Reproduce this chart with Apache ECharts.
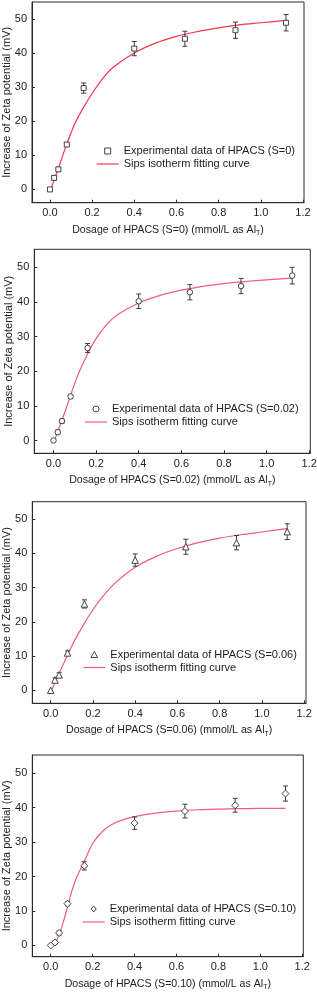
<!DOCTYPE html>
<html><head><meta charset="utf-8">
<script src="https://cdn.jsdelivr.net/npm/echarts@6.0.0/dist/echarts.min.js"></script>
<style>html,body{margin:0;padding:0;background:#fff}#c{width:317px;height:992px}</style>
</head><body><div id="c"></div>
<script>
// ---- data ----
const dosage = [0, 0.02, 0.04, 0.08, 0.16, 0.40, 0.64, 0.88, 1.12];
const zetaS000 = [0, 3.4, 5.9, 13.2, 29.8, 41.4, 44.3, 46.8, 49.0];
const errS000  = [0, 0.6, 0.6, 0.6, 1.5, 2.1, 2.2, 2.4, 2.4];
const zetaS002 = [0, 2.4, 5.6, 12.7, 26.7, 40.2, 42.8, 44.6, 47.6];
const errS002  = [0, 0.6, 0.6, 0.6, 1.3, 2.1, 2.2, 2.2, 2.4];
const zetaS006 = [0, 3.0, 4.5, 10.9, 25.2, 38.0, 41.9, 43.1, 46.3];
const errS006  = [0, 0.6, 0.6, 0.6, 1.2, 1.8, 2.2, 2.1, 2.3];
const zetaS010 = [0, 0.8, 3.6, 12.1, 23.1, 35.5, 39.0, 40.7, 44.1];
const errS010  = [0, 0.5, 0.6, 0.6, 1.2, 1.8, 2.0, 2.0, 2.2];

const fitX      = [0.005, 0.02, 0.04, 0.06, 0.08, 0.10, 0.12, 0.16, 0.20, 0.25, 0.30, 0.40, 0.50, 0.60, 0.70, 0.80, 0.90, 1.00, 1.12];
const fitS000   = [0, 2.8, 6.2, 9.8, 13.4, 16.6, 19.6, 24.2, 28.2, 32.6, 35.9, 40.1, 43.0, 45.0, 46.4, 47.5, 48.4, 49.0, 49.7];
const fitS002   = [0, 2.6, 5.9, 9.4, 13.0, 16.5, 19.7, 25.0, 29.4, 33.5, 36.3, 39.7, 41.9, 43.4, 44.5, 45.3, 45.9, 46.4, 46.9];
const fitS006   = [0, 2.2, 4.9, 7.6, 10.3, 12.9, 15.3, 19.6, 23.5, 27.6, 31.0, 35.9, 39.1, 41.4, 43.1, 44.4, 45.4, 46.2, 47.2];
const fitX010   = [0.02, 0.04, 0.06, 0.08, 0.10, 0.12, 0.14, 0.16, 0.20, 0.25, 0.30, 0.35, 0.40, 0.50, 0.60, 0.70, 0.80, 0.90, 1.00, 1.12];
const fitS010   = [0.6, 3.0, 6.8, 11.2, 15.6, 19.2, 21.9, 24.3, 29.6, 33.3, 35.4, 36.6, 37.4, 38.4, 39.0, 39.4, 39.6, 39.7, 39.8, 39.8];

const xTicks = [0, 0.2, 0.4, 0.6, 0.8, 1.0, 1.2];
const yTicks = [0, 10, 20, 30, 40, 50];
const sLabels = ['S=0', 'S=0.02', 'S=0.06', 'S=0.10'];
const fitName = 'Sips isotherm fitting curve';

// ---- layout ----
const FONT = 'Arial, "Liberation Sans", sans-serif';
const panels = [
  {left: 32, width: 272, top: 2, height: 200.7, xmin: -0.085, xmax: 1.205, ymin: -3.9, ymax: 55.1,
   y: zetaS000, e: errS000, fx: fitX, fy: fitS000, sym: 'path://M0,0L10,0L10,10L0,10Z', size: 5, color: '#f7334f',
   lg: {left: 96.7, top: 145.5}},
  {left: 34.3, width: 276, top: 249.3, height: 204, xmin: -0.09, xmax: 1.205, ymin: -3.7, ymax: 55.2,
   y: zetaS002, e: errS002, fx: fitX, fy: fitS002, sym: 'circle', size: 5.5, color: '#f25c7c',
   lg: {left: 85, top: 403.5}},
  {left: 32.3, width: 273.7, top: 501.7, height: 201.6, xmin: -0.087, xmax: 1.209, ymin: -3.8, ymax: 55.05,
   y: zetaS006, e: errS006, fx: fitX, fy: fitS006, sym: 'path://M5,0L10,9L0,9Z', size: 6.5, color: '#f25c7c',
   lg: {left: 83.3, top: 649}},
  {left: 32.3, width: 271, top: 755, height: 201.7, xmin: -0.088, xmax: 1.205, ymin: -3.3, ymax: 55.3,
   y: zetaS010, e: errS010, fx: fitX010, fy: fitS010, sym: 'path://M5,0L10,6L5,12L0,6Z', size: 7, color: '#f25c7c',
   lg: {left: 82.7, top: 903.5}}
];

function renderErr(params, api) {
  const x = api.value(0), lo = api.value(1), hi = api.value(2);
  if (hi - lo <= 0) return null;
  const a = api.coord([x, lo]), b = api.coord([x, hi]);
  const w = 2.5;
  const st = {stroke: '#3c3c3c', lineWidth: 1};
  return {type: 'group', children: [
    {type: 'line', shape: {x1: a[0], y1: a[1], x2: b[0], y2: b[1]}, style: st},
    {type: 'line', shape: {x1: a[0] - w, y1: a[1], x2: a[0] + w, y2: a[1]}, style: st},
    {type: 'line', shape: {x1: b[0] - w, y1: b[1], x2: b[0] + w, y2: b[1]}, style: st}
  ]};
}

const grid = [], xAxis = [], yAxis = [], series = [], legend = [];
panels.forEach((p, i) => {
  grid.push({left: p.left, top: p.top, width: p.width, height: p.height, show: true,
    borderColor: '#2a2a2a', borderWidth: 1, backgroundColor: 'transparent',
    containLabel: false, outerBoundsMode: 'none'});
  xAxis.push({gridIndex: i, type: 'value', min: p.xmin, max: p.xmax,
    axisLine: {onZero: false, lineStyle: {color: '#2a2a2a', width: 1}},
    axisTick: {inside: true, length: 3, customValues: xTicks, lineStyle: {color: '#2a2a2a'}},
    axisLabel: {customValues: xTicks, formatter: v => v.toFixed(1), fontSize: 11, color: '#222', margin: 5, fontFamily: FONT},
    splitLine: {show: false},
    name: '{n|Dosage of HPACS (' + sLabels[i] + ') (mmol/L as Al}{s|T}{n|)}',
    nameLocation: 'middle', nameGap: 20, nameMoveOverlap: false,
    nameTextStyle: {rich: {
      n: {fontSize: 10.6, color: '#222', fontFamily: FONT, lineHeight: 14},
      s: {fontSize: 7, color: '#222', fontFamily: FONT, lineHeight: 7, padding: [7, 0, 0, 0]}
    }}
  });
  yAxis.push({gridIndex: i, type: 'value', min: p.ymin, max: p.ymax,
    axisLine: {onZero: false, lineStyle: {color: '#2a2a2a', width: 1}},
    axisTick: {inside: true, length: 3, customValues: yTicks, lineStyle: {color: '#2a2a2a'}},
    axisLabel: {customValues: yTicks, fontSize: 11, color: '#222', margin: 5, fontFamily: FONT},
    splitLine: {show: false},
    name: 'Increase of Zeta potential (mV)', nameLocation: 'middle', nameGap: 20, nameMoveOverlap: false,
    nameTextStyle: {fontSize: 11, color: '#222', fontFamily: FONT}
  });
  const expName = 'Experimental data of HPACS (' + sLabels[i] + ')';
  const fName = 'fit' + i;
  series.push({type: 'line', name: fName, xAxisIndex: i, yAxisIndex: i,
    data: p.fx.map((x, k) => [x, p.fy[k]]), smooth: 0.35, symbol: 'none',
    lineStyle: {color: p.color, width: 1.2}, itemStyle: {color: p.color}, z: 2});
  series.push({type: 'custom', name: 'err' + i, xAxisIndex: i, yAxisIndex: i,
    data: dosage.map((x, k) => [x, p.y[k] - p.e[k], p.y[k] + p.e[k]]),
    renderItem: renderErr, encode: {x: 0, y: [1, 2]}, z: 3, silent: true});
  series.push({type: 'scatter', name: expName, xAxisIndex: i, yAxisIndex: i,
    data: dosage.map((x, k) => [x, p.y[k]]), symbol: p.sym, symbolSize: p.size,
    itemStyle: {color: '#fff', borderColor: '#444', borderWidth: 1, opacity: 1}, z: 4});
  legend.push({left: p.lg.left, top: p.lg.top, orient: 'vertical', itemWidth: 22, itemHeight: 6,
    itemGap: 2, padding: 0, selectedMode: false,
    textStyle: {fontSize: 11, color: '#222', fontFamily: FONT},
    formatter: n => n.indexOf('fit') === 0 ? fitName : n,
    data: [
      {name: expName, icon: p.sym === 'circle' ? 'circle' : p.sym,
       itemStyle: {color: '#fff', borderColor: '#444', borderWidth: 1}},
      {name: fName, icon: 'path://M0,0L44,0L44,2.4L0,2.4Z', itemStyle: {color: p.color, borderWidth: 0}}
    ]});
});

const chart = echarts.init(document.getElementById('c'), null, {renderer: 'canvas'});
chart.setOption({backgroundColor: '#fff', animation: false, grid, xAxis, yAxis, series, legend});
</script>
</body></html>
